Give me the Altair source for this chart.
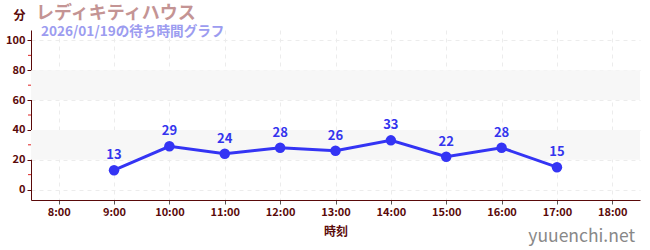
import altair as alt
import pandas as pd

hours = [9, 10, 11, 12, 13, 14, 15, 16, 17]
waits = [13, 29, 24, 28, 26, 33, 22, 28, 15]
x_ticks = [8, 9, 10, 11, 12, 13, 14, 15, 16, 17, 18]
y_ticks = [0, 20, 40, 60, 80, 100]
minor_ticks = [10, 30, 50, 70, 90]
band_lo = [20, 60]
band_hi = [40, 80]
title_text = "レディキティハウス"
subtitle_text = "2026/01/19の待ち時間グラフ"
y_title = "分"
x_title = "時刻"
watermark = "yuuenchi.net"

FONT = "Noto Sans CJK JP"
W, H = 609, 170
AX = "#5a0a0a"

df = pd.DataFrame({"hour": hours, "wait": waits})
bands = pd.DataFrame({"lo": band_lo, "hi": band_hi})
minors = pd.DataFrame({"v": minor_ticks})

xs = alt.Scale(domain=[7.5, 18.5], nice=False, zero=False)
ys = alt.Scale(domain=[-7, 107], nice=False, zero=False)

X_AX = alt.Axis(values=x_ticks, labelExpr="datum.value + ':00'",
                grid=True, gridDash=[4, 4], gridColor="#ececec",
                domainColor=AX, tickColor="#555555", tickSize=4,
                labelColor=AX, labelFont=FONT, labelFontSize=11,
                labelFontWeight="bold", titleColor=AX, titleFont=FONT,
                titleFontSize=12, titleFontWeight="bold", labelPadding=2,
                titlePadding=9, labelOverlap=False)
Y_AX = alt.Axis(values=y_ticks, grid=True, gridDash=[4, 4], gridColor="#ececec",
                domainColor=AX, tickColor=AX, tickSize=4,
                labelColor=AX, labelFont=FONT, labelFontSize=11,
                labelFontWeight="bold", titleColor=AX, titleFont=FONT,
                titleFontSize=12, titleFontWeight="bold", titleAngle=0,
                titleX=-12, titleY=-8, labelPadding=2, labelOverlap=False)


def X(f):
    return alt.X(f, scale=xs, title=x_title, axis=X_AX)


def Y(f):
    return alt.Y(f, scale=ys, title=y_title, axis=Y_AX)


band_layer = alt.Chart(bands).mark_rect(color="#f7f7f7").encode(
    x=alt.value(0), x2=alt.value(W), y=Y("lo:Q"), y2="hi:Q",
)

base = alt.Chart(df)
line = base.mark_line(color="#3434f4", strokeWidth=3).encode(x=X("hour:Q"), y=Y("wait:Q"))
pts = base.mark_circle(color="#3434f4", size=110, opacity=1).encode(
    x=X("hour:Q"), y=Y("wait:Q"))
labels = base.mark_text(color="#3434ee", font=FONT, fontSize=13, fontWeight="bold",
                        dy=-15).encode(x=X("hour:Q"), y=Y("wait:Q"), text="wait:Q")
minor_layer = alt.Chart(minors).mark_rule(color="#dd2222", strokeWidth=1).encode(
    x=alt.value(-3), x2=alt.value(0), y=Y("v:Q")
)


def annot(txt, x, y, color, size, align="left", weight="bold"):
    return alt.Chart(pd.DataFrame({"t": [txt]})).mark_text(
        color=color, font=FONT, fontSize=size, fontWeight=weight, align=align,
        baseline="alphabetic").encode(x=alt.value(x), y=alt.value(y), text="t:N")


t1 = annot(title_text, 5, -11, "#c49494", 18)
t2 = annot(subtitle_text, 10, 6, "#9c9cf0", 13.6)
wm = annot(watermark, W - 5, 212, "#888888", 17.5, align="right", weight="normal")

chart = alt.layer(band_layer, line, pts, labels, minor_layer, t1, t2, wm).properties(
    width=W, height=H,
    autosize=alt.AutoSizeParams(type="none"),
    padding={"left": 31, "top": 30, "right": 10, "bottom": 50},
).configure_view(stroke=None)

chart.save("out.html", embed_options={"renderer": "svg", "actions": False})
